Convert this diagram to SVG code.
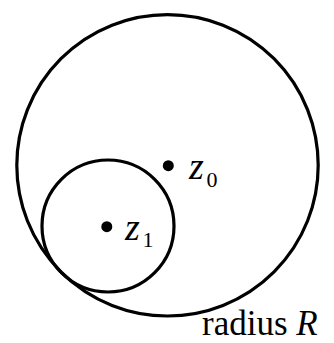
<svg xmlns="http://www.w3.org/2000/svg" width="334" height="343" viewBox="0 0 334 343">
<style>
.c{fill:none;stroke:#000;stroke-width:3.2}
.d{fill:#000}
</style>
<rect width="334" height="343" fill="#fff"/>
<g id="outer-circle"><circle class="c" cx="167.5" cy="165.3" r="150.7"/></g>
<g id="inner-circle"><circle class="c" cx="108" cy="226" r="66"/></g>
<g id="z0" font-family="Liberation Serif, Times New Roman, serif" fill="#000">
<circle class="d" cx="168.3" cy="165.7" r="5.5"/>
<text x="189" y="179" font-size="38" font-style="italic">z</text>
<text x="206.5" y="186.7" font-size="22">0</text>
</g>
<g id="z1" font-family="Liberation Serif, Times New Roman, serif" fill="#000">
<circle class="d" cx="106.8" cy="226.7" r="5.5"/>
<text x="125" y="240" font-size="38" font-style="italic">z</text>
<text x="142.5" y="247" font-size="22">1</text>
</g>
<g id="label" font-family="Liberation Serif, Times New Roman, serif" fill="#000"><text x="202" y="334.5" font-size="35">radius <tspan font-style="italic">R</tspan></text></g>
<g id="connectors"/>
</svg>
